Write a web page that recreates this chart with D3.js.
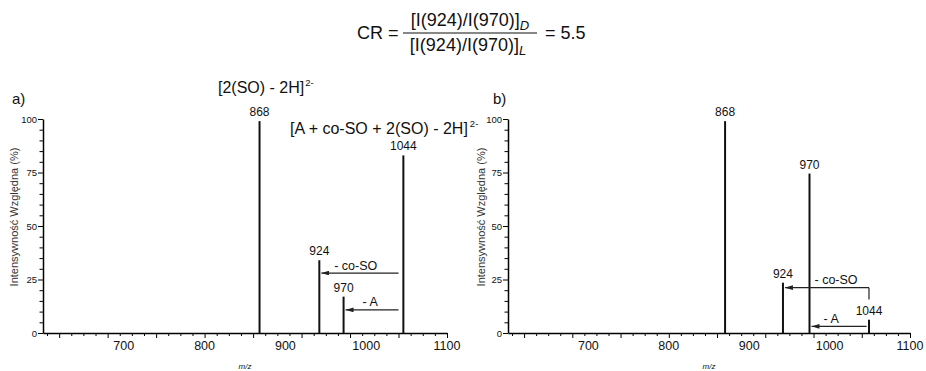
<!DOCTYPE html>
<html>
<head>
<meta charset="utf-8">
<script src="https://cdn.jsdelivr.net/npm/d3@7"></script>
<style>
    body { margin: 0; background: #fff; }
    svg { display: block; font-family: "Liberation Sans", Arial, sans-serif; }
</style>
</head>
<body>
<svg class="spectra"></svg>
<script>
'use strict';

// peaks (m/z where the stick is drawn, relative intensity %)
var peakLabels = ['868', '924', '970', '1044'];
var mzA = [868, 942, 972, 1046];
var intensityA = [99, 34, 17, 83];
var mzB = [870, 942, 975, 1049];
var intensityB = [99, 23.5, 74.5, 6.2];

var xTicks = [700, 800, 900, 1000, 1100];
var yTicks = [0, 25, 50, 75, 100];

// loss arrows: from m/z, to m/z, height (%), label and its m/z
var arrowsA = [
    { from: 1040, to: 942, y: 28, text: '- co-SO', at: 987 },
    { from: 1040, to: 972, y: 10.8, text: '- A', at: 1005 }
];
var arrowsB = [
    { from: 1049, to: 942, y: 21.2, drop: 15.6, text: '- co-SO', at: 1008 },
    { from: 1046, to: 975, y: 3.1, text: '- A', at: 1002 }
];

var svgWidth = 926, svgHeight = 371;
var svg = d3.select('svg.spectra')
    .attr('width', svgWidth)
    .attr('height', svgHeight);

svg.append('defs').append('marker')
    .attr('id', 'head')
    .attr('viewBox', '0 0 10 6')
    .attr('refX', 10).attr('refY', 3)
    .attr('markerWidth', 8).attr('markerHeight', 4.8)
    .attr('markerUnits', 'userSpaceOnUse')
    .attr('orient', 'auto')
    .append('path')
    .attr('d', 'M0,0 L10,3 L0,6 Z')
    .attr('fill', '#222');

// formula on top
var f = svg.append('g').attr('font-size', 18).attr('fill', '#111');
f.append('text').attr('x', 357).attr('y', 39).text('CR =');
var num = f.append('text').attr('x', 470).attr('y', 26).attr('text-anchor', 'middle');
num.append('tspan').text('[I(924)/I(970)]');
num.append('tspan').attr('font-size', 13).attr('font-style', 'italic').attr('dy', 4).text('D');
var den = f.append('text').attr('x', 468).attr('y', 51).attr('text-anchor', 'middle');
den.append('tspan').text('[I(924)/I(970)]');
den.append('tspan').attr('font-size', 13).attr('font-style', 'italic').attr('dy', 4).text('L');
f.append('line').attr('x1', 403).attr('x2', 537).attr('y1', 33).attr('y2', 33)
    .attr('stroke', '#111').attr('stroke-width', 1.2);
f.append('text').attr('x', 545).attr('y', 39).text('= 5.5');

var drawPanel = function(opts) {
    var top = 119, bottom = 333;
    var xScale = d3.scaleLinear().domain([600, 1100]).range([opts.left, opts.right]);
    var yScale = d3.scaleLinear().domain([0, 100]).range([bottom, top]);
    var g = svg.append('g');

    g.append('text').attr('x', opts.tagX).attr('y', opts.tagY)
        .attr('font-size', 15).attr('fill', '#111').text(opts.tag);

    // x axis: small ticks every 15, longer every 60, labels every 100
    var minor = d3.range(1100, 600, -15);
    var xAxis = d3.axisBottom(xScale).tickValues(minor)
        .tickSize(3).tickFormat('').tickSizeOuter(0);
    var gx = g.append('g').attr('transform', 'translate(0,' + bottom + ')').call(xAxis);
    gx.selectAll('.tick line').attr('y2', function(d) { return (1100 - d) % 60 === 0 ? 5 : 3; });
    gx.select('.domain').attr('stroke-width', 1.5);
    g.selectAll('text.xlab').data(xTicks).enter().append('text')
        .attr('class', 'xlab')
        .attr('x', function(d) { return xScale(d); })
        .attr('y', 350)
        .attr('text-anchor', 'middle')
        .attr('font-size', 12.5).attr('fill', '#111')
        .text(function(d) { return d; });
    g.append('text').attr('x', (opts.left + opts.right) / 2).attr('y', 369)
        .attr('text-anchor', 'middle').attr('font-size', 8).attr('font-style', 'italic')
        .attr('fill', '#111').text('m/z');

    // y axis: labels at 25, minor every 5
    var yAxis = d3.axisLeft(yScale).tickValues(d3.range(0, 101, 5))
        .tickSize(4).tickSizeOuter(0)
        .tickFormat(function(d) { return yTicks.indexOf(d) >= 0 ? d : ''; });
    var gy = g.append('g').attr('transform', 'translate(' + opts.left + ',0)').call(yAxis);
    gy.select('.domain').attr('stroke-width', 1.5);
    gy.selectAll('.tick line').attr('x2', function(d) { return d % 25 === 0 ? -5 : -3.5; });
    gy.selectAll('.tick text').attr('font-size', 9.5).attr('x', -6)
        .attr('font-family', '"Liberation Sans", Arial, sans-serif').attr('fill', '#111');
    g.append('text')
        .attr('transform', 'translate(' + opts.titleX + ',217) rotate(-90)')
        .attr('text-anchor', 'middle').attr('font-size', 11).attr('fill', '#333')
        .text('Intensywność Względna (%)');

    // sticks
    var peaks = opts.mz.map(function(m, i) {
        return { mz: m, value: opts.intensity[i], label: peakLabels[i] };
    });
    g.selectAll('line.peak').data(peaks).enter().append('line')
        .attr('class', 'peak')
        .attr('x1', function(d) { return xScale(d.mz); })
        .attr('x2', function(d) { return xScale(d.mz); })
        .attr('y1', yScale(0))
        .attr('y2', function(d) { return yScale(d.value); })
        .attr('stroke', '#111').attr('stroke-width', 2);
    g.selectAll('text.plab').data(peaks).enter().append('text')
        .attr('class', 'plab')
        .attr('x', function(d) { return xScale(d.mz); })
        .attr('y', function(d) { return yScale(d.value) - 5; })
        .attr('text-anchor', 'middle').attr('font-size', 12).attr('fill', '#111')
        .text(function(d) { return d.label; });

    // loss arrows
    opts.arrows.forEach(function(a) {
        var yy = yScale(a.y);
        if (a.drop !== undefined) {
            g.append('line')
                .attr('x1', xScale(a.from)).attr('x2', xScale(a.from))
                .attr('y1', yy).attr('y2', yScale(a.drop))
                .attr('stroke', '#222').attr('stroke-width', 1.2);
        }
        g.append('line')
            .attr('x1', xScale(a.from)).attr('x2', xScale(a.to) + 2)
            .attr('y1', yy).attr('y2', yy)
            .attr('stroke', '#222').attr('stroke-width', 1.2)
            .attr('marker-end', 'url(#head)');
        g.append('text').attr('x', xScale(a.at)).attr('y', yy - 3.5)
            .attr('text-anchor', 'middle').attr('font-size', 12.5).attr('fill', '#111')
            .text(a.text);
    });

    return { g: g, x: xScale, y: yScale };
};

var panelA = drawPanel({
    left: 43, right: 447, tag: 'a)', tagX: 12, tagY: 104, titleX: 18,
    mz: mzA, intensity: intensityA, arrows: arrowsA
});
drawPanel({
    left: 508, right: 910, tag: 'b)', tagX: 493, tagY: 104, titleX: 485,
    mz: mzB, intensity: intensityB, arrows: arrowsB
});

// ion annotations in panel a
var ion1 = panelA.g.append('text').attr('x', 218).attr('y', 93)
    .attr('font-size', 16).attr('fill', '#111');
ion1.append('tspan').text('[2(SO) - 2H]');
ion1.append('tspan').attr('font-size', 9.5).attr('dy', -7).attr('dx', 1).text('2-');
var ion2 = panelA.g.append('text').attr('x', 290).attr('y', 134)
    .attr('font-size', 16).attr('fill', '#111');
ion2.append('tspan').text('[A + co-SO + 2(SO) - 2H]');
ion2.append('tspan').attr('font-size', 9.5).attr('dy', -7).attr('dx', 2).text('2-');
</script>
</body>
</html>
